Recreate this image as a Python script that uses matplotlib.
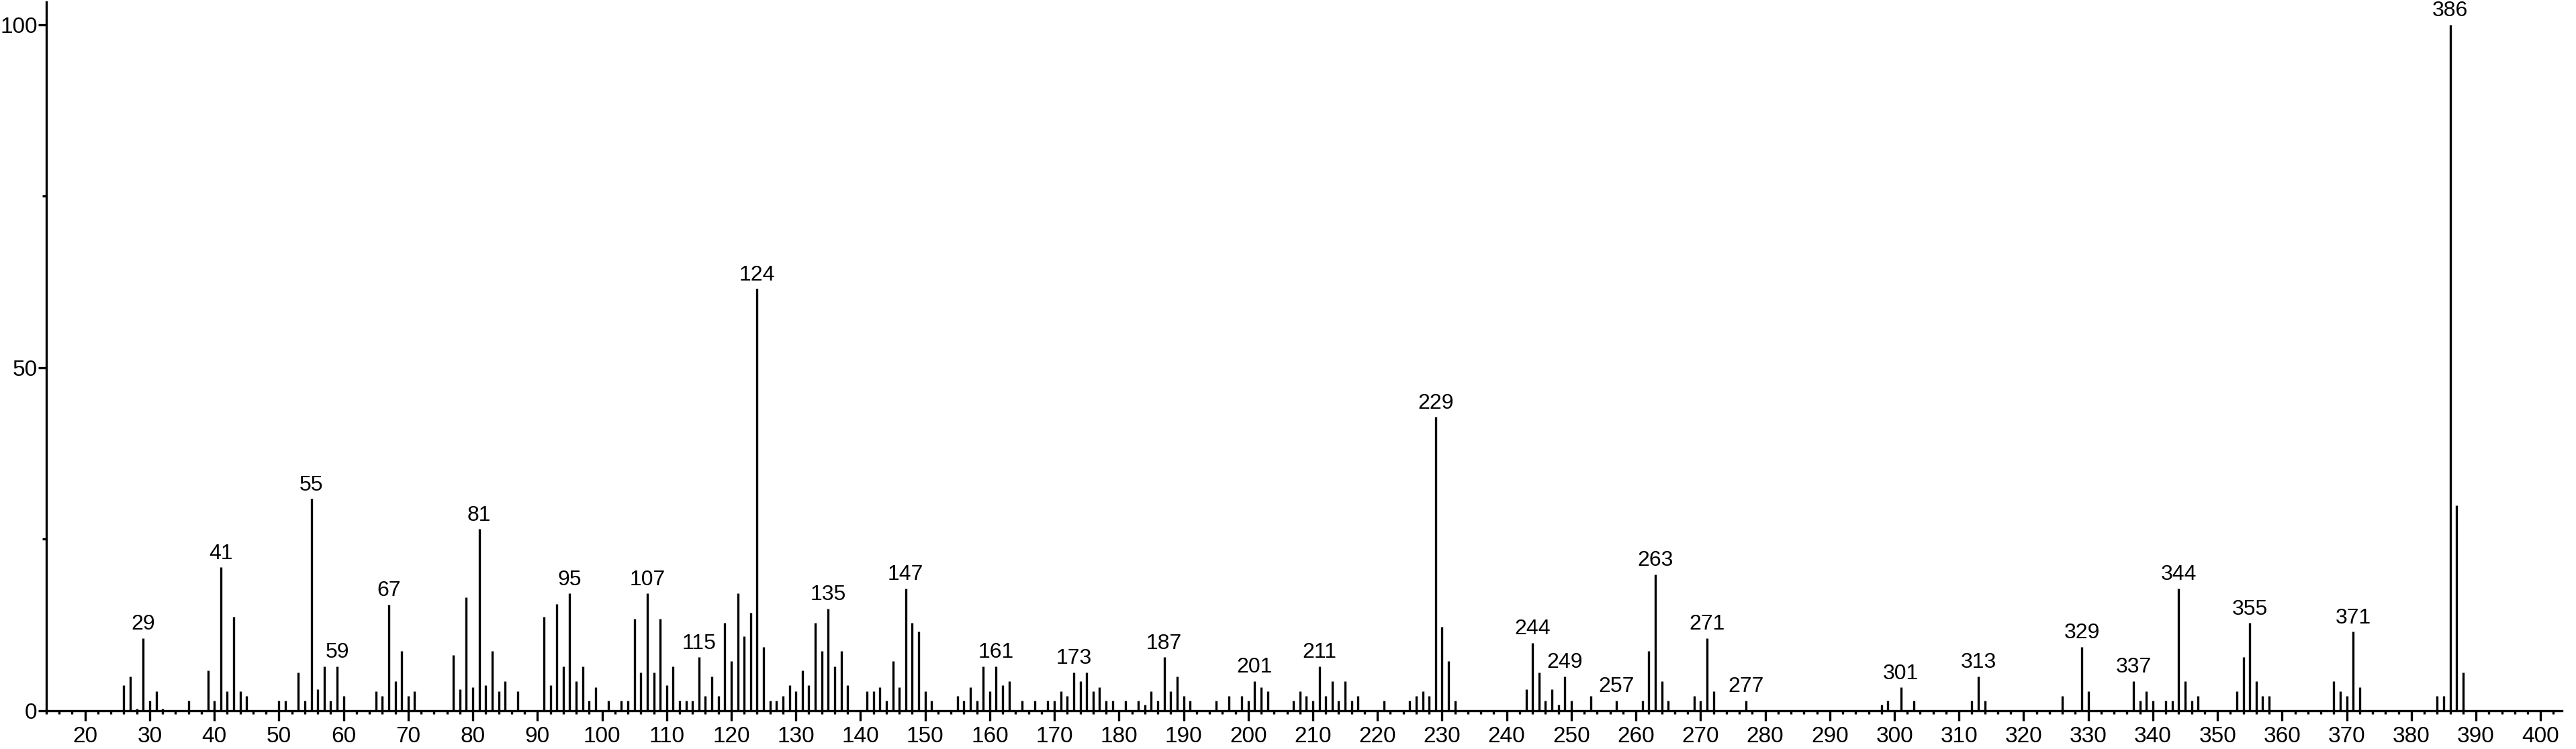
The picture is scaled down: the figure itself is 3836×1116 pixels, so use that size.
import matplotlib
matplotlib.use("Agg")
import matplotlib.pyplot as plt
from matplotlib.ticker import MultipleLocator, FixedLocator
from matplotlib import font_manager

# ---- data (m/z, relative intensity) ----
mz = [26, 27, 28, 29, 30, 31, 32, 36, 39, 40, 41, 42, 43, 44, 45,
      50, 51, 53, 54, 55, 56, 57, 58, 59, 60, 65, 66, 67, 68, 69, 70, 71,
      77, 78, 79, 80, 81, 82, 83, 84, 85, 87, 91, 92, 93, 94, 95, 96, 97, 98, 99,
      101, 103, 104, 105, 106, 107, 108, 109, 110, 111, 112, 113, 114, 115, 116,
      117, 118, 119, 120, 121, 122, 123, 124, 125, 126, 127, 128, 129, 130, 131,
      132, 133, 134, 135, 136, 137, 138, 141, 142, 143, 144, 145, 146, 147, 148,
      149, 150, 151, 155, 156, 157, 158, 159, 160, 161, 162, 163, 165, 167, 169,
      170, 171, 172, 173, 174, 175, 176, 177, 178, 179, 181, 183, 184, 185, 186,
      187, 188, 189, 190, 191, 195, 197, 199, 200, 201, 202, 203, 207, 208, 209,
      210, 211, 212, 213, 214, 215, 216, 217, 221, 225, 226, 227, 228, 229, 230,
      231, 232, 243, 244, 245, 246, 247, 248, 249, 250, 253, 257, 261, 262, 263,
      264, 265, 269, 270, 271, 272, 277, 298, 299, 301, 303, 312, 313, 314, 326,
      329, 330, 337, 338, 339, 340, 342, 343, 344, 345, 346, 347, 353, 354, 355,
      356, 357, 358, 368, 369, 370, 371, 372, 384, 385, 386, 387, 388]
intensity = [3.7, 5.0, 0.3, 10.6, 1.5, 2.8, 0.3, 1.5, 5.9, 1.5, 20.9, 2.8, 13.7, 2.8, 2.2,
             1.5, 1.5, 5.6, 1.5, 30.9, 3.1, 6.5, 1.5, 6.5, 2.2, 2.8, 2.2, 15.5, 4.3, 8.7, 2.2, 2.8,
             8.1, 3.1, 16.5, 3.4, 26.5, 3.7, 8.7, 2.8, 4.3, 2.8, 13.7, 3.7, 15.6, 6.5, 17.1, 4.3, 6.5, 1.5, 3.4,
             1.5, 1.5, 1.5, 13.4, 5.6, 17.1, 5.6, 13.4, 3.7, 6.5, 1.5, 1.5, 1.5, 7.8, 2.2,
             5.0, 2.2, 12.8, 7.2, 17.1, 10.9, 14.3, 61.5, 9.3, 1.5, 1.5, 2.2, 3.7, 2.8, 5.9,
             3.7, 12.8, 8.7, 14.9, 6.5, 8.7, 3.7, 2.8, 2.8, 3.4, 1.5, 7.2, 3.4, 17.8, 12.8,
             11.5, 2.8, 1.5, 2.2, 1.5, 3.4, 1.5, 6.5, 2.8, 6.5, 3.7, 4.3, 1.5, 1.5, 1.5,
             1.5, 2.8, 2.2, 5.6, 4.3, 5.6, 2.8, 3.4, 1.5, 1.5, 1.5, 1.5, 0.9, 2.8, 1.5,
             7.8, 2.8, 5.0, 2.2, 1.5, 1.5, 2.2, 2.2, 1.5, 4.3, 3.4, 2.8, 1.5, 2.8, 2.2,
             1.5, 6.5, 2.2, 4.3, 1.5, 4.3, 1.5, 2.2, 1.5, 1.5, 2.2, 2.8, 2.2, 42.8, 12.2,
             7.2, 1.5, 3.1, 9.9, 5.6, 1.5, 3.1, 0.9, 5.0, 1.5, 2.2, 1.5, 1.5, 8.7, 19.9,
             4.3, 1.5, 2.2, 1.5, 10.6, 2.8, 1.5, 0.9, 1.5, 3.4, 1.5, 1.5, 5.0, 1.5, 2.2,
             9.3, 2.8, 4.3, 1.5, 2.8, 1.5, 1.5, 1.5, 17.8, 4.3, 1.5, 2.2, 2.8, 7.8, 12.8,
             4.3, 2.2, 2.2, 4.3, 2.8, 2.2, 11.5, 3.4, 2.2, 2.2, 100.0, 29.9, 5.6]

labeled_peaks = [29, 41, 55, 59, 67, 81, 95, 107, 115, 124, 135, 147, 161, 173,
                 187, 201, 211, 229, 244, 249, 257, 263, 271, 277, 301, 313, 329,
                 337, 344, 355, 371, 386]

x_ticks = list(range(20, 401, 10))
y_ticks = [0, 50, 100]

# ---- font ----
avail = {f.name for f in font_manager.fontManager.ttflist}
family = "Liberation Sans" if "Liberation Sans" in avail else "DejaVu Sans"
plt.rcParams["font.family"] = [family, "DejaVu Sans"]

W, H = 3836, 1116
fig = plt.figure(figsize=(W / 100, H / 100), dpi=100)
left_px, right_px, bottom_px, top_px = 69, 3815, 1059, 3
ax = fig.add_axes([left_px / W, 1 - bottom_px / H,
                   (right_px - left_px) / W, (bottom_px - top_px) / H])

ax.vlines(mz, 0, intensity, colors="black", linewidth=2.4)

ymax = 103.3
ax.set_ylim(0, ymax)
ax.set_xlim(14, 403.3)

lookup = dict(zip(mz, intensity))
for p in labeled_peaks:
    ax.annotate(str(p), xy=(p, lookup[p]), xytext=(0, 4), textcoords="offset points",
                ha="center", va="bottom", fontsize=23, color="black")

for s in ("top", "right"):
    ax.spines[s].set_visible(False)
for s in ("left", "bottom"):
    ax.spines[s].set_linewidth(2.4)

ax.xaxis.set_major_locator(FixedLocator(x_ticks))
ax.xaxis.set_minor_locator(MultipleLocator(2))
ax.yaxis.set_major_locator(FixedLocator(y_ticks))
ax.yaxis.set_minor_locator(FixedLocator([25, 75]))
ax.tick_params(axis="x", which="major", direction="out", length=10.8, width=2.4,
               labelsize=24, pad=6)
ax.tick_params(axis="x", which="minor", direction="out", length=3.8, width=2.4)
ax.tick_params(axis="y", which="major", direction="out", length=8.6, width=2.4,
               labelsize=24, pad=1)
ax.tick_params(axis="y", which="minor", direction="out", length=4, width=2.4)
ax.set_xticklabels([str(t) for t in x_ticks])

fig.savefig("out.png", dpi=100, facecolor="white")
